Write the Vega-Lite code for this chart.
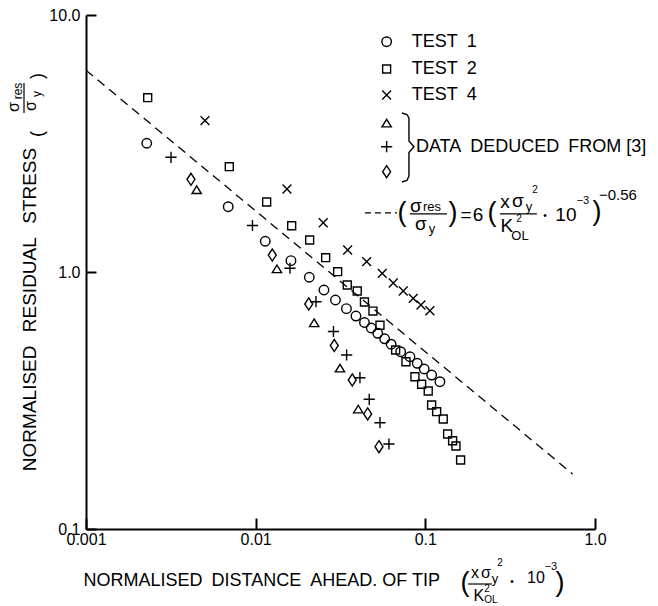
{
  "$schema": "https://vega.github.io/schema/vega-lite/v6.json",
  "width": 509,
  "height": 514,
  "autosize": {"type": "none"},
  "padding": {"left": 86, "top": 15, "right": 63, "bottom": 77},
  "background": "white",
  "config": {
    "view": {"stroke": null},
    "font": "Liberation Sans",
    "text": {"font": "Liberation Sans", "color": "black"}
  },
  "datasets": {
    "pts": [
      {"s": "T1", "x": 0.00228, "y": 3.17}, {"s": "T1", "x": 0.00689, "y": 1.795}, {"s": "T1", "x": 0.01139, "y": 1.317}, {"s": "T1", "x": 0.01614, "y": 1.107}, {"s": "T1", "x": 0.0207, "y": 0.954}, {"s": "T1", "x": 0.02526, "y": 0.851}, {"s": "T1", "x": 0.02953, "y": 0.778}, {"s": "T1", "x": 0.03428, "y": 0.72}, {"s": "T1", "x": 0.039, "y": 0.674}, {"s": "T1", "x": 0.04377, "y": 0.636}, {"s": "T1", "x": 0.048, "y": 0.6055}, {"s": "T1", "x": 0.05243, "y": 0.5775}, {"s": "T1", "x": 0.05757, "y": 0.5496}, {"s": "T1", "x": 0.06287, "y": 0.5237}, {"s": "T1", "x": 0.07153, "y": 0.4896}, {"s": "T1", "x": 0.08116, "y": 0.468}, {"s": "T1", "x": 0.0896, "y": 0.4413}, {"s": "T1", "x": 0.0985, "y": 0.4194}, {"s": "T1", "x": 0.1089, "y": 0.3973}, {"s": "T1", "x": 0.1219, "y": 0.3742},
      {"s": "T2", "x": 0.00231, "y": 4.767}, {"s": "T2", "x": 0.00699, "y": 2.569}, {"s": "T2", "x": 0.01161, "y": 1.873}, {"s": "T2", "x": 0.0163, "y": 1.514}, {"s": "T2", "x": 0.02081, "y": 1.332}, {"s": "T2", "x": 0.02585, "y": 1.137}, {"s": "T2", "x": 0.03042, "y": 1.003}, {"s": "T2", "x": 0.03466, "y": 0.89}, {"s": "T2", "x": 0.03969, "y": 0.8435}, {"s": "T2", "x": 0.04377, "y": 0.7646}, {"s": "T2", "x": 0.04912, "y": 0.7047}, {"s": "T2", "x": 0.05403, "y": 0.6204}, {"s": "T2", "x": 0.06683, "y": 0.4971}, {"s": "T2", "x": 0.07686, "y": 0.4477}, {"s": "T2", "x": 0.08684, "y": 0.3914}, {"s": "T2", "x": 0.0951, "y": 0.3656}, {"s": "T2", "x": 0.104, "y": 0.3444}, {"s": "T2", "x": 0.1089, "y": 0.3038}, {"s": "T2", "x": 0.1166, "y": 0.2861}, {"s": "T2", "x": 0.1275, "y": 0.2679}, {"s": "T2", "x": 0.1353, "y": 0.2342}, {"s": "T2", "x": 0.1448, "y": 0.2206}, {"s": "T2", "x": 0.1515, "y": 0.2104}, {"s": "T2", "x": 0.1614, "y": 0.1855},
      {"s": "T4", "x": 0.005025, "y": 3.879}, {"s": "T4", "x": 0.01529, "y": 2.104}, {"s": "T4", "x": 0.02502, "y": 1.555}, {"s": "T4", "x": 0.03485, "y": 1.218}, {"s": "T4", "x": 0.0451, "y": 1.097}, {"s": "T4", "x": 0.05572, "y": 0.9884}, {"s": "T4", "x": 0.0647, "y": 0.9063}, {"s": "T4", "x": 0.0741, "y": 0.8435}, {"s": "T4", "x": 0.08485, "y": 0.7897}, {"s": "T4", "x": 0.09421, "y": 0.7441}, {"s": "T4", "x": 0.1064, "y": 0.7067},
      {"s": "A", "x": 0.00449, "y": 2.085}, {"s": "A", "x": 0.01335, "y": 1.027}, {"s": "A", "x": 0.02212, "y": 0.6331}, {"s": "A", "x": 0.0314, "y": 0.422}, {"s": "A", "x": 0.04023, "y": 0.2923},
      {"s": "P", "x": 0.00317, "y": 2.795}, {"s": "P", "x": 0.009575, "y": 1.517}, {"s": "P", "x": 0.01593, "y": 1.034}, {"s": "P", "x": 0.02267, "y": 0.7665}, {"s": "P", "x": 0.02874, "y": 0.5869}, {"s": "P", "x": 0.03437, "y": 0.4753}, {"s": "P", "x": 0.04117, "y": 0.3879}, {"s": "P", "x": 0.04671, "y": 0.3197}, {"s": "P", "x": 0.05403, "y": 0.2592}, {"s": "P", "x": 0.06102, "y": 0.2142},
      {"s": "D", "x": 0.004156, "y": 2.294}, {"s": "D", "x": 0.01253, "y": 1.164}, {"s": "D", "x": 0.02055, "y": 0.7508}, {"s": "D", "x": 0.02905, "y": 0.5176}, {"s": "D", "x": 0.03709, "y": 0.38}, {"s": "D", "x": 0.04571, "y": 0.2803}, {"s": "D", "x": 0.05331, "y": 0.209}
    ],
    "legendPts": [
      {"s": "T1", "x": 0.05914, "y": 7.872}, {"s": "T2", "x": 0.05914, "y": 6.165}, {"s": "T4", "x": 0.05914, "y": 4.884},
      {"s": "A", "x": 0.05914, "y": 3.789}, {"s": "P", "x": 0.05914, "y": 3.073}, {"s": "D", "x": 0.05914, "y": 2.456}
    ],
    "fit": [{"x": 0.001, "y": 6.1}, {"x": 0.738, "y": 0.1637}],
    "brace": [
      {"o": 1, "x": 0.0728, "y": 4.156}, {"o": 2, "x": 0.07791, "y": 4.1}, {"o": 3, "x": 0.08007, "y": 3.974},
      {"o": 4, "x": 0.08007, "y": 3.234}, {"o": 5, "x": 0.08568, "y": 3.073}, {"o": 6, "x": 0.08007, "y": 2.917},
      {"o": 7, "x": 0.08007, "y": 2.363}, {"o": 8, "x": 0.07791, "y": 2.27}, {"o": 9, "x": 0.0728, "y": 2.239}
    ],
    "bars": [
      {"x": 0.0004311, "x2": 0.0004311, "y": 5.437, "y2": 4.156},
      {"x": 0.08116, "x2": 0.1341, "y": 1.682, "y2": 1.682},
      {"x": 0.2752, "x2": 0.4545, "y": 1.682, "y2": 1.682},
      {"x": 0.1782, "x2": 0.2469, "y": 0.06109, "y2": 0.06109}
    ],
    "legdash": [{"x": 0.04407, "x2": 0.06803, "y": 1.697, "y2": 1.697}],
    "notes": [
      {"c": "lbl", "t": "TEST\u20021", "x": 0.08305, "y": 7.872},
      {"c": "lbl", "t": "TEST\u20022", "x": 0.08305, "y": 6.165},
      {"c": "lbl", "t": "TEST\u20024", "x": 0.08305, "y": 4.884},
      {"c": "lbl", "t": "DATA\u2002DEDUCED\u2002FROM [3]", "x": 0.08802, "y": 3.073},
      {"c": "paren", "t": "(", "x": 0.0728, "y": 1.697},
      {"c": "paren", "t": ")", "x": 0.1454, "y": 1.697},
      {"c": "paren", "t": "(", "x": 0.2469, "y": 1.697},
      {"c": "paren", "t": ")", "x": 1.026, "y": 1.712},
      {"c": "paren", "t": "(", "x": 0.1712, "y": 0.06165},
      {"c": "paren", "t": ")", "x": 0.6214, "y": 0.06165},
      {"c": "main", "t": "σ", "x": 0.08802, "y": 1.806},
      {"c": "main", "t": "σ", "x": 0.09421, "y": 1.537},
      {"c": "main", "t": "=", "x": 0.1735, "y": 1.667},
      {"c": "main", "t": "6", "x": 0.2042, "y": 1.667},
      {"c": "main", "t": "x", "x": 0.2945, "y": 1.873},
      {"c": "main", "t": "σ", "x": 0.3514, "y": 1.889},
      {"c": "main", "t": "K", "x": 0.3027, "y": 1.51},
      {"c": "main", "t": "10", "x": 0.6738, "y": 1.667},
      {"c": "tmain", "t": "x", "x": 0.196, "y": 0.06743},
      {"c": "tmain", "t": "σ", "x": 0.2276, "y": 0.06743},
      {"c": "tmain", "t": "K", "x": 0.207, "y": 0.05487},
      {"c": "tmain", "t": "10", "x": 0.4484, "y": 0.06447},
      {"c": "sub", "t": "res", "x": 0.1094, "y": 1.79},
      {"c": "sub", "t": "y", "x": 0.1094, "y": 1.47},
      {"c": "sub", "t": "y", "x": 0.4079, "y": 1.79},
      {"c": "sub", "t": "OL", "x": 0.3611, "y": 1.38},
      {"c": "sub", "t": "y", "x": 0.2571, "y": 0.06389},
      {"c": "sup2", "t": "−3", "x": 0.8486, "y": 1.889},
      {"c": "sup2", "t": "−3", "x": 0.5498, "y": 0.07113},
      {"c": "sup", "t": "OL", "x": 0.2436, "y": 0.05295},
      {"c": "sup", "t": "2", "x": 0.4424, "y": 2.085},
      {"c": "sup", "t": "2", "x": 0.3562, "y": 1.608},
      {"c": "sup", "t": "2", "x": 0.2752, "y": 0.07375},
      {"c": "sup", "t": "2", "x": 0.2307, "y": 0.05841},
      {"c": "sup", "t": "•", "x": 0.5068, "y": 1.652},
      {"c": "sup", "t": "•", "x": 0.3238, "y": 0.0622},
      {"c": "exp", "t": "−0.56", "x": 1.364, "y": 1.993},
      {"c": "rparen", "t": "(", "x": 0.0005212, "y": 3.443},
      {"c": "rparen", "t": ")", "x": 0.0005212, "y": 5.788},
      {"c": "rmain", "t": "σ", "x": 0.0003764, "y": 4.385},
      {"c": "rmain", "t": "σ", "x": 0.0004741, "y": 4.425},
      {"c": "rsub", "t": "res", "x": 0.0003975, "y": 5.062},
      {"c": "rsub", "t": "y", "x": 0.0005143, "y": 4.927}
    ]
  },
  "encoding": {
    "x": {
      "field": "x", "type": "quantitative",
      "scale": {"type": "log", "domain": [0.001, 1], "nice": false, "zero": false},
      "axis": {
        "values": [0.001, 0.01, 0.1, 1],
        "labelExpr": "datum.value >= 0.5 ? '1.0' : datum.value >= 0.05 ? '0.1' : datum.value >= 0.005 ? '0.01' : '0.001'",
        "title": "NORMALISED\u2002DISTANCE\u2002AHEAD. OF TIP",
        "grid": false, "tickSize": -11, "tickWidth": 2, "tickColor": "black",
        "domainColor": "black", "domainWidth": 2,
        "labelFont": "Liberation Sans", "labelFontSize": 16, "labelColor": "black", "labelPadding": 13,
        "labelFlush": false, "labelOverlap": false,
        "titleFont": "Liberation Sans", "titleFontSize": 18, "titleFontWeight": "normal", "titleColor": "black",
        "titleAlign": "left", "titleBaseline": "middle", "titleX": -3, "titleY": 51
      }
    },
    "y": {
      "field": "y", "type": "quantitative",
      "scale": {"type": "log", "domain": [0.1, 10], "nice": false, "zero": false},
      "axis": {
        "values": [0.1, 1, 10],
        "labelExpr": "datum.value >= 5 ? '10.0' : datum.value >= 0.5 ? '1.0' : '0.1'",
        "title": "NORMALISED\u2002\u2009RESIDUAL\u2002\u2009STRESS",
        "grid": false, "tickSize": -10, "tickWidth": 2, "tickColor": "black",
        "domainColor": "black", "domainWidth": 2,
        "labelFont": "Liberation Sans", "labelFontSize": 16, "labelColor": "black", "labelPadding": 16,
        "labelFlush": false, "labelOverlap": false,
        "titleFont": "Liberation Sans", "titleFontSize": 19, "titleFontWeight": "normal", "titleColor": "black",
        "titleAngle": 270, "titleAlign": "center", "titleBaseline": "middle", "titleX": -57, "titleY": 294
      }
    }
  },
  "layer": [
    {
      "data": {"name": "fit"},
      "mark": {"type": "line", "color": "black", "strokeWidth": 1.3, "strokeDash": [9, 6]},
      "encoding": {}
    },
    {
      "data": {"name": "pts"},
      "mark": {"type": "point", "filled": false, "color": "black", "strokeWidth": 1.4, "size": 90, "opacity": 1},
      "encoding": {
        "shape": {
          "field": "s", "type": "nominal", "legend": null,
          "scale": {
            "domain": ["T1", "T2", "T4", "A", "P", "D"],
            "range": ["circle", "M-0.84,-0.84L0.84,-0.84L0.84,0.84L-0.84,0.84Z", "M-0.93,-0.93L0.93,0.93M-0.93,0.93L0.93,-0.93", "M0,-0.85L0.98,0.75L-0.98,0.75Z", "M-1.18,0L1.18,0M0,-1.18L0,1.18", "M0,-1.27L0.84,0L0,1.27L-0.84,0Z"]
          }
        }
      }
    },
    {
      "data": {"name": "legendPts"},
      "mark": {"type": "point", "filled": false, "color": "black", "strokeWidth": 1.4, "size": 90, "opacity": 1},
      "encoding": {
        "shape": {"field": "s", "type": "nominal", "legend": null}
      }
    },
    {
      "data": {"name": "brace"},
      "mark": {"type": "line", "color": "black", "strokeWidth": 1.4},
      "encoding": {"order": {"field": "o", "type": "quantitative"}}
    },
    {
      "data": {"name": "bars"},
      "mark": {"type": "rule", "color": "black", "strokeWidth": 1.2},
      "encoding": {"x2": {"field": "x2"}, "y2": {"field": "y2"}}
    },
    {
      "data": {"name": "legdash"},
      "mark": {"type": "rule", "color": "black", "strokeWidth": 1.3, "strokeDash": [6, 4]},
      "encoding": {"x2": {"field": "x2"}, "y2": {"field": "y2"}}
    },
    {
      "data": {"name": "notes"},
      "transform": [{"filter": "datum.c == 'lbl'"}],
      "mark": {"type": "text", "fontSize": 18, "align": "left", "baseline": "middle"},
      "encoding": {"text": {"field": "t"}}
    },
    {
      "data": {"name": "notes"},
      "transform": [{"filter": "datum.c == 'paren'"}],
      "mark": {"type": "text", "fontSize": 27, "align": "center", "baseline": "middle"},
      "encoding": {"text": {"field": "t"}}
    },
    {
      "data": {"name": "notes"},
      "transform": [{"filter": "datum.c == 'main'"}],
      "mark": {"type": "text", "fontSize": 19, "align": "center", "baseline": "middle"},
      "encoding": {"text": {"field": "t"}}
    },
    {
      "data": {"name": "notes"},
      "transform": [{"filter": "datum.c == 'tmain'"}],
      "mark": {"type": "text", "fontSize": 16, "align": "center", "baseline": "middle"},
      "encoding": {"text": {"field": "t"}}
    },
    {
      "data": {"name": "notes"},
      "transform": [{"filter": "datum.c == 'sub'"}],
      "mark": {"type": "text", "fontSize": 13, "align": "center", "baseline": "middle"},
      "encoding": {"text": {"field": "t"}}
    },
    {
      "data": {"name": "notes"},
      "transform": [{"filter": "datum.c == 'sup2'"}],
      "mark": {"type": "text", "fontSize": 11, "align": "center", "baseline": "middle"},
      "encoding": {"text": {"field": "t"}}
    },
    {
      "data": {"name": "notes"},
      "transform": [{"filter": "datum.c == 'sup'"}],
      "mark": {"type": "text", "fontSize": 10, "align": "center", "baseline": "middle"},
      "encoding": {"text": {"field": "t"}}
    },
    {
      "data": {"name": "notes"},
      "transform": [{"filter": "datum.c == 'exp'"}],
      "mark": {"type": "text", "fontSize": 15, "align": "center", "baseline": "middle"},
      "encoding": {"text": {"field": "t"}}
    },
    {
      "data": {"name": "notes"},
      "transform": [{"filter": "datum.c == 'rparen'"}],
      "mark": {"type": "text", "fontSize": 18, "align": "center", "baseline": "middle", "angle": 270},
      "encoding": {"text": {"field": "t"}}
    },
    {
      "data": {"name": "notes"},
      "transform": [{"filter": "datum.c == 'rmain'"}],
      "mark": {"type": "text", "fontSize": 16, "align": "center", "baseline": "middle", "angle": 270},
      "encoding": {"text": {"field": "t"}}
    },
    {
      "data": {"name": "notes"},
      "transform": [{"filter": "datum.c == 'rsub'"}],
      "mark": {"type": "text", "fontSize": 12, "align": "center", "baseline": "middle", "angle": 270},
      "encoding": {"text": {"field": "t"}}
    }
  ]
}
